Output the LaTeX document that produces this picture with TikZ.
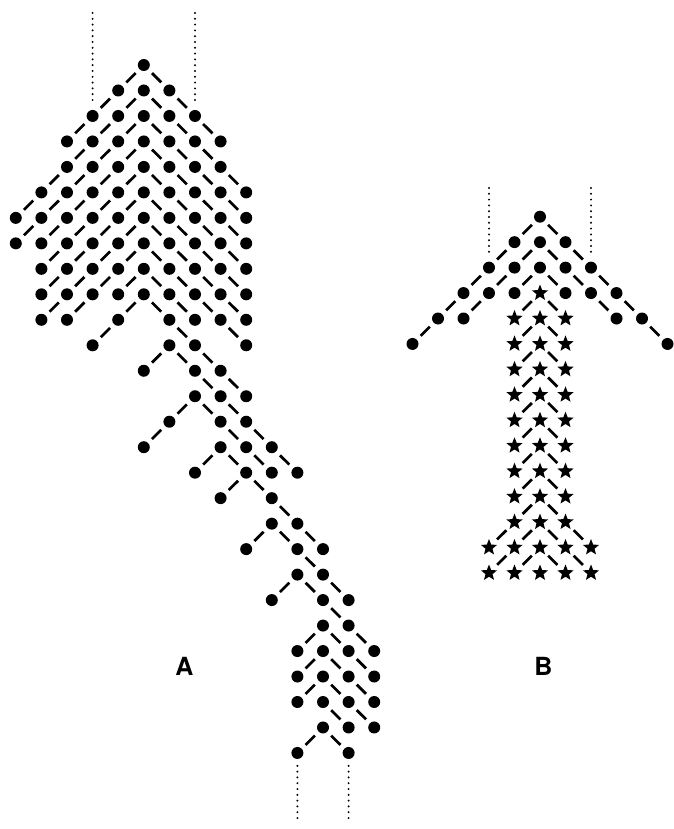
\documentclass[tikz,border=0pt]{standalone}
\usepackage{fontspec}
\usetikzlibrary{shapes.geometric}
\newfontfamily\lblfont{TeX Gyre Heros}
\begin{document}
\begin{tikzpicture}[x=1pt,y=-1pt,
  dotA/.style={circle,fill=black,inner sep=0pt,minimum size=12pt},
  starB/.style={star,star points=5,star point ratio=2.3,fill=black,inner sep=0pt,minimum size=17pt},
  bar/.style={line width=2.7pt,shorten >=11.5pt,shorten <=11.5pt},
  guide/.style={line width=2.2pt,line cap=round,dash pattern=on 0pt off 5.8pt},
  lbl/.style={inner sep=0pt,font=\lblfont\bfseries\fontsize{25}{25}\selectfont}]
\useasboundingbox (0,0) rectangle (673,829);

% ---------- A : dots ----------
\foreach \rw/\cols in {1/{0},2/{-1,0,1},3/{-2,...,2},4/{-3,...,3},5/{-3,...,3},
  6/{-4,...,4},7/{-5,...,4},8/{-5,...,4},9/{-4,...,4},10/{-4,...,4},
  11/{-4,-3,-1,1,2,3,4},12/{-2,1,2,4},13/{0,2,3},14/{2,3,4},15/{1,3,4},
  16/{0,3,4,5},17/{2,4,5,6},18/{3,5},19/{5,6},20/{4,6,7},21/{6,7},
  22/{5,7,8},23/{7,8},24/{6,...,9},25/{6,...,9},26/{6,...,9},27/{7,8,9},28/{6,8}}{
  \foreach \c in \cols {
    \pgfmathtruncatemacro\cc{\c+10}
    \node[dotA] (A\rw c\cc) at ({143.8+25.6*\c},{65+25.48*(\rw-1)}) {};
  }
}

% ---------- A : dashes, upper chevrons ----------
\foreach \rw in {1,...,11}{
  \foreach \c in {-5,...,5}{
    \pgfmathtruncatemacro\rn{\rw+1}
    \pgfmathtruncatemacro\cc{\c+10}
    \pgfmathtruncatemacro\cL{\c+9}
    \pgfmathtruncatemacro\cR{\c+11}
    \ifcsname pgf@sh@ns@A\rw c\cc\endcsname
      \ifnum\c<1
        \ifcsname pgf@sh@ns@A\rn c\cL\endcsname
          \draw[bar] (A\rw c\cc.center) -- (A\rn c\cL.center);
        \fi
      \fi
      \ifnum\c>-1
        \ifcsname pgf@sh@ns@A\rn c\cR\endcsname
          \draw[bar] (A\rw c\cc.center) -- (A\rn c\cR.center);
        \fi
      \fi
    \fi
  }
}

% ---------- A : dashes, tail ----------
\foreach \rw/\c/\d in {12/1/-1,12/1/1,12/2/1, 13/2/1,13/3/1,
  14/2/-1,14/2/1,14/3/1, 15/1/-1,15/3/1,15/4/1,
  16/3/-1,16/3/1,16/4/1,16/5/1, 17/4/-1,17/4/1, 18/5/1,
  19/5/-1,19/5/1,19/6/1, 20/6/1, 21/6/-1,21/6/1,21/7/1, 22/7/1,
  23/7/-1,23/7/1,23/8/1, 24/7/-1,24/7/1,24/8/1,
  25/7/-1,25/7/1,25/8/1, 26/7/1,26/8/1, 27/7/-1,27/7/1}{
  \pgfmathtruncatemacro\rn{\rw+1}
  \pgfmathtruncatemacro\cc{\c+10}
  \pgfmathtruncatemacro\cn{\c+\d+10}
  \draw[bar] (A\rw c\cc.center) -- (A\rn c\cn.center);
}

% ---------- A : dotted guides ----------
\coordinate (gA1) at (92.6,13);
\coordinate (gA2) at (195.0,13);
\coordinate (gA3) at (297.4,818);
\coordinate (gA4) at (348.6,818);
\draw[guide,shorten >=13pt] (gA1) -- (A3c8.center);
\draw[guide,shorten >=12pt] (gA2) -- (A3c12.center);
\draw[guide,shorten >=10pt] (gA3) -- (A28c16.center);
\draw[guide,shorten >=10pt] (gA4) -- (A28c18.center);

% ---------- B : dots and stars ----------
\foreach \rw/\cols in {1/{0},2/{-1,0,1},3/{-2,...,2},4/{-3,-2,-1,1,2,3},
  5/{-4,-3,3,4},6/{-5,5}}{
  \foreach \c in \cols {
    \pgfmathtruncatemacro\cc{\c+10}
    \node[dotA] (B\rw c\cc) at ({540+25.5*\c},{216.7+25.45*(\rw-1)}) {};
  }
}
\foreach \rw/\cols in {4/{0},5/{-1,0,1},6/{-1,0,1},7/{-1,0,1},8/{-1,0,1},
  9/{-1,0,1},10/{-1,0,1},11/{-1,0,1},12/{-1,0,1},13/{-1,0,1},
  14/{-2,...,2},15/{-2,...,2}}{
  \foreach \c in \cols {
    \pgfmathtruncatemacro\cc{\c+10}
    \node[starB] (B\rw c\cc) at ({540+25.5*\c},{216.7+25.45*(\rw-1)}) {};
  }
}

% ---------- B : dashes ----------
\foreach \rw in {1,...,14}{
  \foreach \c in {-5,...,5}{
    \pgfmathtruncatemacro\rn{\rw+1}
    \pgfmathtruncatemacro\cc{\c+10}
    \pgfmathtruncatemacro\cL{\c+9}
    \pgfmathtruncatemacro\cR{\c+11}
    \ifcsname pgf@sh@ns@B\rw c\cc\endcsname
      \ifnum\c<1
        \ifcsname pgf@sh@ns@B\rn c\cL\endcsname
          \draw[bar] (B\rw c\cc.center) -- (B\rn c\cL.center);
        \fi
      \fi
      \ifnum\c>-1
        \ifcsname pgf@sh@ns@B\rn c\cR\endcsname
          \draw[bar] (B\rw c\cc.center) -- (B\rn c\cR.center);
        \fi
      \fi
    \fi
  }
}

% ---------- B : dotted guides ----------
\coordinate (gB1) at (489,188);
\coordinate (gB2) at (591,188);
\draw[guide,shorten >=12pt] (gB1) -- (B3c8.center);
\draw[guide,shorten >=12pt] (gB2) -- (B3c12.center);

% ---------- labels ----------
\node[lbl] (labA) at (184.5,666.5) {A};
\node[lbl] (labB) at (543.5,666) {B};
\end{tikzpicture}
\end{document}
